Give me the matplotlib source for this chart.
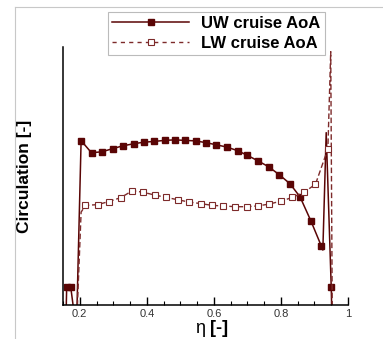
import numpy as np
import matplotlib.pyplot as plt
from matplotlib.lines import Line2D

# spanwise position and circulation (arbitrary units)
eta_uw = [0.158, 0.161, 0.173, 0.190, 0.204, 0.235, 0.267, 0.298, 0.329, 0.361,
          0.391, 0.422, 0.453, 0.483, 0.514, 0.546, 0.577, 0.607, 0.639,
          0.671, 0.700, 0.731, 0.763, 0.795, 0.827, 0.857, 0.889, 0.920,
          0.925, 0.935, 0.950, 0.953]
circ_uw = [-0.10, 0.070, 0.070, -0.10, 0.637, 0.590, 0.594, 0.606, 0.617, 0.625,
           0.631, 0.634, 0.638, 0.640, 0.638, 0.636, 0.629, 0.621, 0.612,
           0.598, 0.580, 0.559, 0.536, 0.505, 0.470, 0.419, 0.327, 0.230,
           0.213, 0.668, 0.069, -0.10]

eta_lw = [0.190, 0.204, 0.217, 0.253, 0.287, 0.322, 0.357, 0.389, 0.424, 0.458,
          0.492, 0.526, 0.561, 0.595, 0.628, 0.663, 0.698, 0.731, 0.764,
          0.799, 0.834, 0.869, 0.903, 0.940, 0.9485, 0.9534]
circ_lw = [-0.10, 0.360, 0.386, 0.389, 0.401, 0.416, 0.443, 0.437, 0.426, 0.417,
           0.408, 0.399, 0.393, 0.386, 0.384, 0.381, 0.381, 0.384, 0.391,
           0.402, 0.417, 0.437, 0.468, 0.605, 0.982, -0.10]
# markers only on the "real" stations
mk_uw = list(range(1, 3)) + list(range(4, 28)) + [30]
mk_lw = list(range(2, 24))

uw_color = '#5a0505'
lw_color = '#7d2a2a'

plt.rcParams['font.family'] = ['Liberation Sans', 'DejaVu Sans']

fig = plt.figure(figsize=(3.83, 3.39), dpi=100)
ax = fig.add_axes([0.1645, 0.1003, 0.7441, 0.7611])

ax.plot(eta_uw, circ_uw, '-', color=uw_color, lw=1.1, marker='s', ms=4.4,
        markevery=mk_uw, mfc=uw_color, mec=uw_color)
ax.plot(eta_lw, circ_lw, '--', color=lw_color, lw=1.0, dashes=(4, 2), marker='s', ms=5,
        markevery=mk_lw, mfc='white', mec=lw_color, mew=0.8)

ax.set_xlim(0.15, 1.0)
ax.set_ylim(0, 1)
ax.set_xticks([0.2, 0.4, 0.6, 0.8, 1.0])
ax.set_xticklabels(['0.2', '0.4', '0.6', '0.8', '1'])
ax.set_xticks(np.arange(0.15, 1.0, 0.05), minor=True)
ax.tick_params(axis='x', which='major', direction='in', length=6, width=1,
               labelsize=8, pad=3, labelcolor='#333333')
ax.tick_params(axis='x', which='minor', direction='in', length=3, width=0.8)
ax.set_yticks([])
ax.spines['top'].set_visible(False)
ax.spines['right'].set_visible(False)
ax.spines['left'].set_linewidth(1.1)
ax.spines['bottom'].set_linewidth(1.1)

# x label: regular eta, bold bracket
ax.text(0.497, -0.09, 'η', transform=ax.transAxes, fontsize=13,
        ha='right', va='center')
ax.text(0.515, -0.09, '[-]', transform=ax.transAxes, fontsize=13,
        fontweight='bold', ha='left', va='center')
ax.set_ylabel('Circulation [-]', fontsize=12.5, fontweight='bold')
ax.yaxis.set_label_coords(-0.11, 0.5)

handles = [
    Line2D([], [], color=uw_color, lw=1.1, marker='s', ms=4.4, mfc=uw_color),
    Line2D([], [], color=lw_color, lw=1.0, ls='--', dashes=(3, 3), marker='s', ms=5,
           mfc='white', mec=lw_color, mew=0.8),
]
leg = fig.legend(handles, ['UW cruise AoA', 'LW cruise AoA'], loc='upper left',
                 bbox_to_anchor=(0.282, 0.965), prop={'weight': 'bold', 'size': 12},
                 handlelength=4.6, handletextpad=0.75, labelspacing=0.3,
                 borderpad=0.25, borderaxespad=0, fancybox=False, framealpha=1,
                 edgecolor='#bbbbbb')
leg.get_frame().set_linewidth(0.8)

# thin grey border of the original frame
fig.add_artist(Line2D([15 / 383, 1], [1 - 7 / 339, 1 - 7 / 339], color='#c8c8c8', lw=0.8,
                      transform=fig.transFigure))
fig.add_artist(Line2D([15 / 383, 15 / 383], [0, 1 - 7 / 339], color='#c8c8c8', lw=0.8,
                      transform=fig.transFigure))

fig.savefig('out.png', dpi=100)
